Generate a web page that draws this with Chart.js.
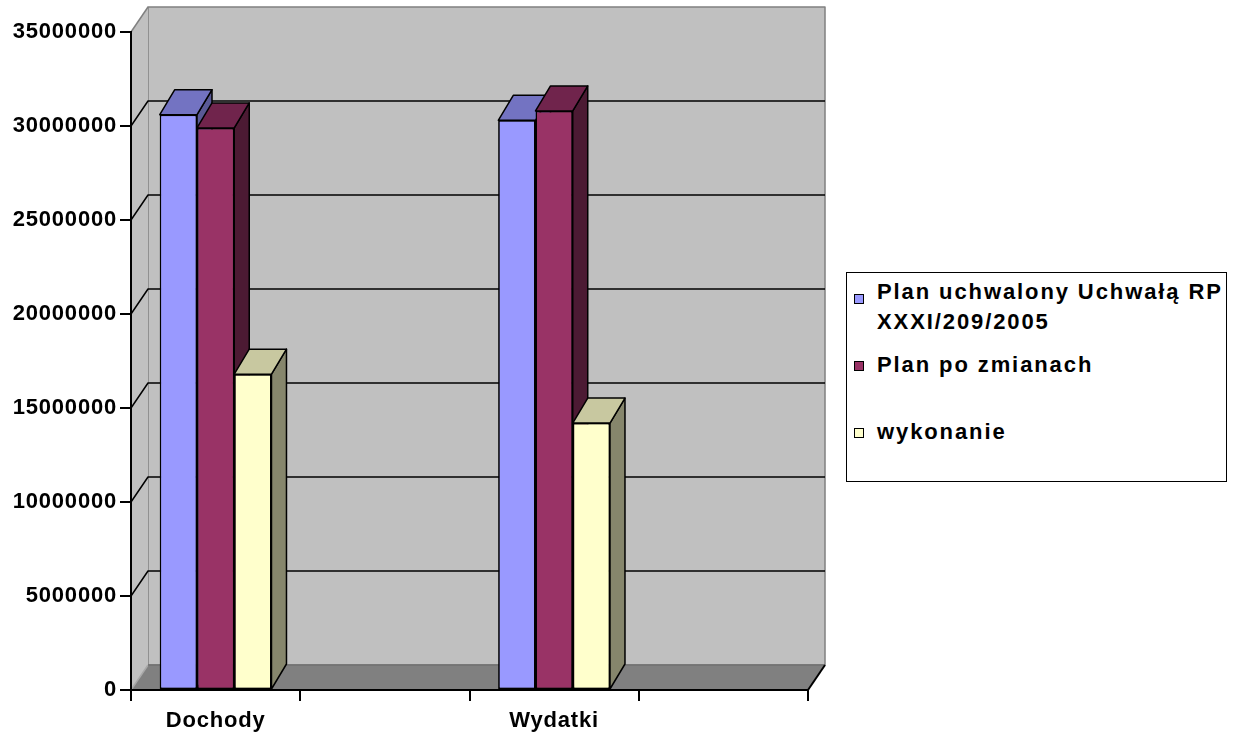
<!DOCTYPE html>
<html>
<head>
<meta charset="utf-8">
<script src="https://cdn.jsdelivr.net/npm/chart.js@4.4.0/dist/chart.umd.min.js"></script>
<style>
  html, body { margin: 0; padding: 0; background: #fff; }
  #wrap { position: relative; width: 1238px; height: 738px; }
  #legenda {
    position: absolute; left: 846px; top: 272px; width: 381px; height: 210px;
    border: 1.5px solid #000; box-sizing: border-box; background: #fff;
    font: bold 22px "Liberation Sans", Arial, sans-serif; letter-spacing: 1.9px; color: #000;
  }
  .poz { position: absolute; left: 30px; line-height: 30px; white-space: nowrap; }
  .kw { position: absolute; left: 7px; width: 10px; height: 10px; border: 1px solid #000; box-sizing: border-box; }
</style>
</head>
<body>
<div id="wrap">
  <canvas id="wykres" width="1238" height="738"></canvas>
  <div id="legenda"></div>
</div>
<script>
// dane
const kategorie = ["Dochody", "", "Wydatki", ""];
const planUchwalony = [30600000, null, 30300000, null];
const planPoZmianach = [29900000, null, 30800000, null];
const wykonanie = [16800000, null, 14200000, null];
const nazwySerii = ["Plan uchwalony Uchwałą RP\nXXXI/209/2005", "Plan po zmianach", "wykonanie"];
const osY = { min: 0, max: 35000000, krok: 5000000 };

// kolory: przód, góra, bok
const kolory = [
  ["#9999ff", "#7373c2", "#5a5a96"],
  ["#993366", "#70244c", "#4c1a33"],
  ["#ffffcc", "#c8c8a0", "#86866c"]
];

const GLEB_SCIANY = { dx: 17, dy: -25 };
const GLEB_SLUPKA = { dx: 15, dy: -25 };
const czcionka = { family: "'Liberation Sans', Arial, sans-serif", size: 22, weight: "bold" };

function wielokat(ctx, pkt, fill, stroke, lw) {
  ctx.beginPath();
  ctx.moveTo(pkt[0][0], pkt[0][1]);
  for (let i = 1; i < pkt.length; i++) ctx.lineTo(pkt[i][0], pkt[i][1]);
  ctx.closePath();
  if (fill) { ctx.fillStyle = fill; ctx.fill(); }
  if (stroke) { ctx.strokeStyle = stroke; ctx.lineWidth = lw; ctx.stroke(); }
}

function linia(ctx, pkt, kolor, lw) {
  ctx.beginPath();
  ctx.moveTo(pkt[0][0], pkt[0][1]);
  for (let i = 1; i < pkt.length; i++) ctx.lineTo(pkt[i][0], pkt[i][1]);
  ctx.strokeStyle = kolor; ctx.lineWidth = lw; ctx.stroke();
}

// ściany i podłoga
const sciany = {
  id: "sciany",
  beforeDraw(chart) {
    const ctx = chart.ctx;
    ctx.letterSpacing = "0.8px";
    const a = chart.chartArea, ys = chart.scales.y;
    const { dx, dy } = GLEB_SCIANY;
    const L = a.left, R = a.right;
    const T = ys.getPixelForValue(osY.max), B = ys.getPixelForValue(osY.min);
    ctx.save();
    ctx.lineJoin = "round";
    // tylna ściana
    wielokat(ctx, [[L + dx, T + dy], [R + dx, T + dy], [R + dx, B + dy], [L + dx, B + dy]], "#c0c0c0", "#808080", 1.5);
    // lewa ściana
    wielokat(ctx, [[L, B], [L, T], [L + dx, T + dy], [L + dx, B + dy]], "#c0c0c0", null, 0);
    linia(ctx, [[L, T], [L + dx, T + dy]], "#808080", 1.5);
    // podłoga
    wielokat(ctx, [[L, B], [R, B], [R + dx, B + dy], [L + dx, B + dy]], "#808080", null, 0);
    linia(ctx, [[L, B], [L + dx, B + dy]], "#a8a8a8", 1.5);
    linia(ctx, [[L + dx, B + dy], [R + dx, B + dy]], "#707070", 1.5);
    linia(ctx, [[R, B], [R + dx, B + dy]], "#000", 2);
    // linie siatki
    for (let v = osY.min + osY.krok; v < osY.max; v += osY.krok) {
      const y = ys.getPixelForValue(v);
      linia(ctx, [[L, y], [L + dx, y + dy], [R + dx, y + dy]], "#000", 1.5);
    }
    ctx.restore();
  }
};

// bryły słupków
const bryly = {
  id: "bryly",
  afterDatasetsDraw(chart) {
    const ctx = chart.ctx;
    const { dx, dy } = GLEB_SLUPKA;
    const lista = [];
    chart.data.datasets.forEach((ds, i) => {
      chart.getDatasetMeta(i).data.forEach((el, j) => {
        if (ds.data[j] == null) return;
        lista.push({ el, k: kolory[i] });
      });
    });
    lista.sort((p, q) => p.el.x - q.el.x);
    ctx.save();
    ctx.lineJoin = "round";
    lista.forEach(({ el, k }) => {
      const p = el.getProps(["x", "y", "base", "width"], true);
      const l = p.x - p.width / 2, r = p.x + p.width / 2;
      wielokat(ctx, [[r, p.y], [r + dx, p.y + dy], [r + dx, p.base + dy], [r, p.base]], k[2], "#000", 1.5);
      wielokat(ctx, [[l, p.y], [l + dx, p.y + dy], [r + dx, p.y + dy], [r, p.y]], k[1], "#000", 1.5);
      el.draw(ctx, chart.chartArea);
    });
    ctx.restore();
  }
};

const serie = [planUchwalony, planPoZmianach, wykonanie];

new Chart(document.getElementById("wykres"), {
  type: "bar",
  data: {
    labels: kategorie,
    datasets: serie.map((d, i) => ({
      label: nazwySerii[i],
      data: d,
      backgroundColor: kolory[i][0],
      borderColor: "#000",
      borderWidth: 1.5,
      borderSkipped: false,
      categoryPercentage: 0.66,
      barPercentage: 1.0
    }))
  },
  options: {
    responsive: false,
    animation: false,
    devicePixelRatio: 1,
    layout: { padding: { left: 0, top: 32, right: 430, bottom: 0 } },
    plugins: { legend: { display: false }, tooltip: { enabled: false } },
    scales: {
      x: {
        grid: { offset: true, drawOnChartArea: false, tickLength: 11, color: "#000", lineWidth: 2 },
        border: { color: "#000", width: 2 },
        ticks: { font: czcionka, color: "#000", padding: 7, maxRotation: 0, autoSkip: false },
        afterFit(s) { s.height = 48; }
      },
      y: {
        min: osY.min, max: osY.max,
        grid: { drawOnChartArea: false, tickLength: 11, color: "#000", lineWidth: 2 },
        border: { color: "#000", width: 2 },
        ticks: { stepSize: osY.krok, font: czcionka, color: "#000", padding: 3, callback: v => String(v) },
        afterFit(s) { s.width = 131; }
      }
    }
  },
  plugins: [sciany, bryly]
});

// legenda jako zwykły tekst
const leg = document.getElementById("legenda");
const pozycje = [[4, 21], [77, 88], [144, 155]];
nazwySerii.forEach((n, i) => {
  const t = document.createElement("div");
  t.className = "poz";
  t.style.top = pozycje[i][0] + "px";
  t.innerHTML = n.split("\n").join("<br>");
  leg.appendChild(t);
  const kw = document.createElement("div");
  kw.className = "kw";
  kw.style.top = pozycje[i][1] + "px";
  kw.style.background = kolory[i][0];
  leg.appendChild(kw);
});
</script>
</body>
</html>
